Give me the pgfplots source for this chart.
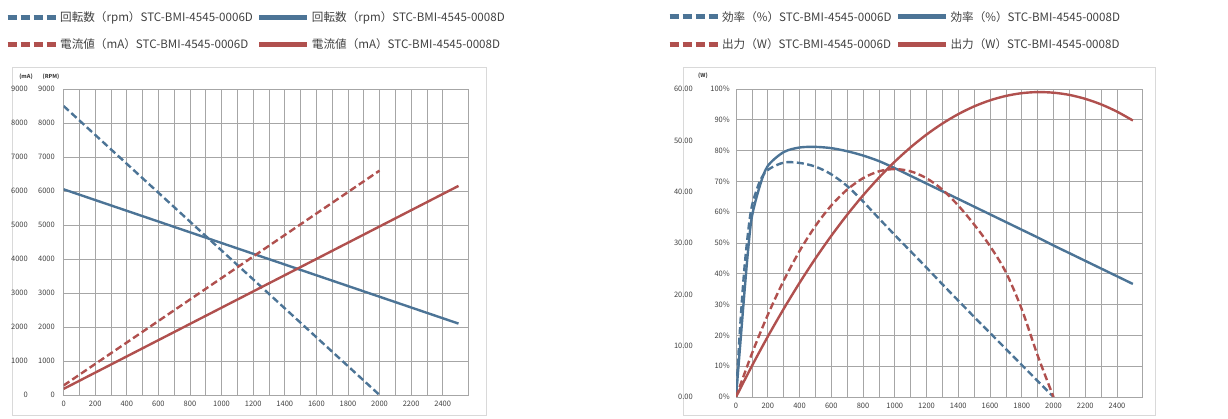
\documentclass[border=0pt]{standalone}
\usepackage{fontspec}
\setmainfont{Noto Sans CJK JP}
\usepackage{pgfplots}
\pgfplotsset{compat=1.18}

\definecolor{cBlue}{HTML}{4C7496}
\definecolor{cRed}{HTML}{B0504E}
\definecolor{cGrid}{HTML}{A6A6A6}
\definecolor{cFrame}{HTML}{D9D9D9}
\definecolor{cText}{HTML}{404040}

\pgfplotsset{
  dashleg/.style={legend image code/.code={\draw[##1, line width=5pt, dash pattern=on 9.5pt off 3.5pt] (0pt,0pt) -- (48pt,0pt);}},
  solidleg/.style={legend image code/.code={\draw[##1, line width=5pt] (0pt,0pt) -- (48pt,0pt);}},
  motor/.style={
    scale only axis,
    anchor=south west,
    xmin=0, xmax=2560,
    xtick={0,200,...,2400},
    minor x tick num=1,
    major tick length=0pt, minor tick length=0pt,
    tick label style={font=\fontsize{7.5}{9}\selectfont, text=cText},
    /pgf/number format/assume math mode=true,
    /pgf/number format/1000 sep={},
    xticklabel style={anchor=north, inner sep=0pt, yshift=-6pt},
    yticklabel style={anchor=east, inner sep=0pt},
  },
  motorgrid/.style={
    grid=both,
    grid style={cGrid, line width=0.7pt},
    minor grid style={cGrid, line width=0.7pt},
    axis line style={cGrid, line width=0.7pt},
  },
  leg/.style={
    legend columns=2,
    legend cell align=left,
    legend style={draw=none, fill=none, inner sep=0pt, anchor=north west,
      font=\fontsize{11.6}{13.5}\selectfont, text=cText,
      row sep=12pt,
      /tikz/every even column/.append style={column sep=2pt},
      /tikz/every odd column/.append style={column sep=0pt}},
  },
  dsh/.style={line width=2.4pt, dash pattern=on 7pt off 3.5pt, dashleg},
  sol/.style={line width=2.4pt, solidleg},
}

\begin{document}
\begin{tikzpicture}
\path[use as bounding box] (0pt,0pt) rectangle (1228pt,419pt);
\draw[cFrame, line width=0.8pt] (12pt,4pt) rectangle (486pt,352pt);
\draw[cFrame, line width=0.8pt] (683pt,4pt) rectangle (1155pt,352pt);
\node[font=\fontsize{5.5}{6}\selectfont\bfseries, text=cText] at (26pt,342pt) {(mA)};
\node[font=\fontsize{5.5}{6}\selectfont\bfseries, text=cText] at (51pt,342pt) {(RPM)};
\node[font=\fontsize{5.5}{6}\selectfont\bfseries, text=cText] at (703pt,343pt) {(W)};

% left: speed and current
\begin{axis}[motor, motorgrid, leg,
  at={(63.6pt,24pt)}, width=404.4pt, height=306pt,
  ymin=0, ymax=9000, ytick={0,1000,...,9000},
  yticklabel={\makebox[27pt][r]{\pgfmathprintnumber{\tick}}\makebox[27pt][r]{\pgfmathprintnumber{\tick}}},
  yticklabel style={xshift=-8.6pt},
  legend style={at={(-0.145,1.261)}},
]
\addplot[cBlue, dsh] coordinates {(0,8500) (2000,0)};
\addlegendentry{回転数（rpm）STC-BMI-4545-0006D}
\addplot[cBlue, sol] coordinates {(0,6050) (2500,2100)};
\addlegendentry{回転数（rpm）STC-BMI-4545-0008D}
\addplot[cRed, dsh] coordinates {(0,280) (2000,6600)};
\addlegendentry{電流値（mA）STC-BMI-4545-0006D}
\addplot[cRed, sol] coordinates {(0,180) (2500,6150)};
\addlegendentry{電流値（mA）STC-BMI-4545-0008D}
\end{axis}

% right: efficiency (%)
\begin{axis}[motor, motorgrid,
  at={(736pt,22pt)}, width=406.4pt, height=308pt,
  ymin=0, ymax=100, ytick={0,10,...,100},
  yticklabel={\pgfmathprintnumber{\tick}\%},
  yticklabel style={xshift=-6pt},
]
\addplot[cBlue, dsh, smooth] coordinates {
  (0,0) (25,22) (50,40) (75,53) (100,62) (150,70) (200,73.7) (300,76.1)
  (400,76) (500,74.8) (600,72.3) (700,68.5) (800,63.5) (900,58) (1000,52.6)
  (1100,47.3) (1200,42) (1300,36.6) (1400,31.3) (1500,26) (1600,20.8)
  (1700,15.6) (1800,10.4) (1900,5.2) (2000,0)};
\addplot[cBlue, sol, smooth] coordinates {
  (0,0) (25,16) (50,32) (75,47) (100,58.5) (150,68.5) (200,75) (300,79.5)
  (400,81) (500,81.2) (600,80.8) (700,79.8) (800,78.4) (900,76.6) (1000,74.3)
  (1100,71.8) (1200,69.3) (1300,66.8) (1400,64.3) (1500,61.8) (1600,59.3)
  (1700,56.8) (1800,54.3) (1900,51.8) (2000,49.2) (2100,46.7) (2200,44.2)
  (2300,41.7) (2400,39.2) (2500,36.7)};
\end{axis}

% right: output (W)
\begin{axis}[motor, leg,
  at={(736pt,22pt)}, width=406.4pt, height=308pt,
  axis line style={draw=none},
  xtick=\empty,
  ymin=0, ymax=60, ytick={0,10,...,60},
  yticklabel={\pgfmathprintnumber[fixed,fixed zerofill,precision=2]{\tick}},
  yticklabel style={xshift=-43pt},
  legend style={at={(-0.170,1.260)}},
]
\addlegendimage{cBlue, dsh}
\addlegendentry{効率（\%）STC-BMI-4545-0006D}
\addlegendimage{cBlue, sol}
\addlegendentry{効率（\%）STC-BMI-4545-0008D}
\addplot[cRed, dsh, smooth] coordinates {
  (0,0) (100,8.44) (200,15.98) (300,22.64) (400,28.42) (500,33.3) (600,37.3)
  (700,40.4) (800,42.62) (900,43.96) (1000,44.4) (1100,43.96) (1200,42.62)
  (1300,40.4) (1400,37.3) (1500,33.6) (1600,29.4) (1700,24.3) (1800,17.1)
  (1900,8.1) (2000,0)};
\addlegendentry{出力（W）STC-BMI-4545-0006D}
\addplot[cRed, sol, smooth] coordinates {
  (0,0) (100,6.04) (200,11.76) (300,17.15) (400,22.22) (500,26.97) (600,31.39)
  (700,35.49) (800,39.26) (900,42.71) (1000,45.84) (1100,48.64) (1200,51.12)
  (1300,53.27) (1400,55.10) (1500,56.61) (1600,57.79) (1700,58.65) (1800,59.19)
  (1900,59.40) (2000,59.28) (2100,58.85) (2200,58.08) (2300,57.00) (2400,55.59)
  (2500,53.86)};
\addlegendentry{出力（W）STC-BMI-4545-0008D}
\end{axis}
\end{tikzpicture}
\end{document}
